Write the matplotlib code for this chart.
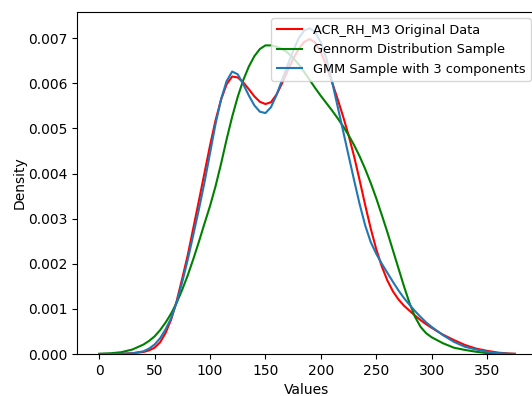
import matplotlib
matplotlib.use("Agg")
import matplotlib.pyplot as plt
from matplotlib.ticker import FormatStrFormatter

# Evaluation grid for the density curves
values = [0, 10, 20, 30, 40, 45, 50, 55, 60, 65, 70, 75, 80, 85, 90, 95,
          100, 105, 110, 115, 120, 125, 130, 135, 140, 145, 150, 155, 160,
          165, 170, 175, 180, 185, 190, 195, 200, 205, 210, 215, 220, 225,
          230, 235, 240, 245, 250, 255, 260, 265, 270, 275, 280, 285, 290,
          295, 300, 310, 320, 330, 340, 350, 360, 370, 375]

# Kernel density of the original ACR_RH_M3 measurements
density_original = [
    0.0, 0.000002, 0.000006, 0.000018, 0.000045, 0.00008, 0.00014, 0.00026,
    0.00047, 0.00077, 0.00118, 0.00168, 0.00220, 0.00280, 0.00340, 0.00401,
    0.00462, 0.00518, 0.00564, 0.00598, 0.00615, 0.00613, 0.00602, 0.00587,
    0.00571, 0.00559, 0.00554, 0.00558, 0.00575, 0.00600, 0.00628, 0.00654,
    0.00676, 0.00692, 0.00698, 0.00690, 0.00669, 0.00638, 0.00603, 0.00566,
    0.00527, 0.00485, 0.00438, 0.00385, 0.00330, 0.00278, 0.00232, 0.00194,
    0.00163, 0.00139, 0.00121, 0.00107, 0.00096, 0.00085, 0.00075, 0.00066,
    0.00058, 0.00043, 0.00031, 0.00020, 0.00012, 0.00007, 0.00003, 0.00001,
    0.000005]

# Kernel density of the generalized-normal sample
density_gennorm = [
    0.000005, 0.000015, 0.00004, 0.0001, 0.00021, 0.00029, 0.00039, 0.00053,
    0.00070, 0.00090, 0.00114, 0.00143, 0.00175, 0.00211, 0.00249, 0.00289,
    0.00328, 0.00372, 0.00422, 0.00476, 0.00526, 0.00570, 0.00607, 0.00637,
    0.00660, 0.00676, 0.00684, 0.00684, 0.00681, 0.00676, 0.00668, 0.00656,
    0.00642, 0.00625, 0.00607, 0.00589, 0.00572, 0.00556, 0.00540, 0.00523,
    0.00505, 0.00485, 0.00463, 0.00438, 0.00410, 0.00379, 0.00345, 0.00308,
    0.00270, 0.00230, 0.00190, 0.00150, 0.00113, 0.00082, 0.00060, 0.00046,
    0.00037, 0.00024, 0.00014, 0.00009, 0.00005, 0.00002, 0.000005, 0.000001,
    0.0]

# Kernel density of the 3-component Gaussian mixture sample
density_gmm = [
    0.0, 0.000001, 0.000004, 0.000015, 0.00006, 0.00012, 0.00021, 0.00035,
    0.00055, 0.00080, 0.00115, 0.00160, 0.00210, 0.00265, 0.00321, 0.00380,
    0.00445, 0.00510, 0.00565, 0.00605, 0.00626, 0.00620, 0.00598, 0.00573,
    0.00551, 0.00537, 0.00534, 0.00547, 0.00574, 0.00607, 0.00640, 0.00672,
    0.00700, 0.00717, 0.00722, 0.00713, 0.00690, 0.00655, 0.00605, 0.00550,
    0.00495, 0.00440, 0.00385, 0.00332, 0.00285, 0.00248, 0.00222, 0.00200,
    0.00180, 0.00160, 0.00141, 0.00124, 0.00109, 0.00095, 0.00082, 0.00070,
    0.00060, 0.00042, 0.00027, 0.00016, 0.00010, 0.00005, 0.00002, 0.000005,
    0.000002]

labels = ["ACR_RH_M3 Original Data", "Gennorm Distribution Sample",
          "GMM Sample with 3 components"]

fig = plt.figure(figsize=(5.32, 3.96), dpi=100)
ax = fig.add_axes([77 / 532, 42 / 396, 460 / 532, 342 / 396])

ax.plot(values, density_original, color="red", lw=1.5, label=labels[0])
ax.plot(values, density_gennorm, color="green", lw=1.5, label=labels[1])
ax.plot(values, density_gmm, color="#1f77b4", lw=1.5, label=labels[2])

ax.set_xlim(-20, 395)
ax.set_ylim(0, 0.00758)
ax.set_xticks([0, 50, 100, 150, 200, 250, 300, 350])
ax.set_yticks([0.000, 0.001, 0.002, 0.003, 0.004, 0.005, 0.006, 0.007])
ax.yaxis.set_major_formatter(FormatStrFormatter("%.3f"))
ax.set_xlabel("Values")
ax.set_ylabel("Density", labelpad=1)
ax.legend(loc="upper right", fontsize=9.3)

fig.savefig("out.png", dpi=100)
